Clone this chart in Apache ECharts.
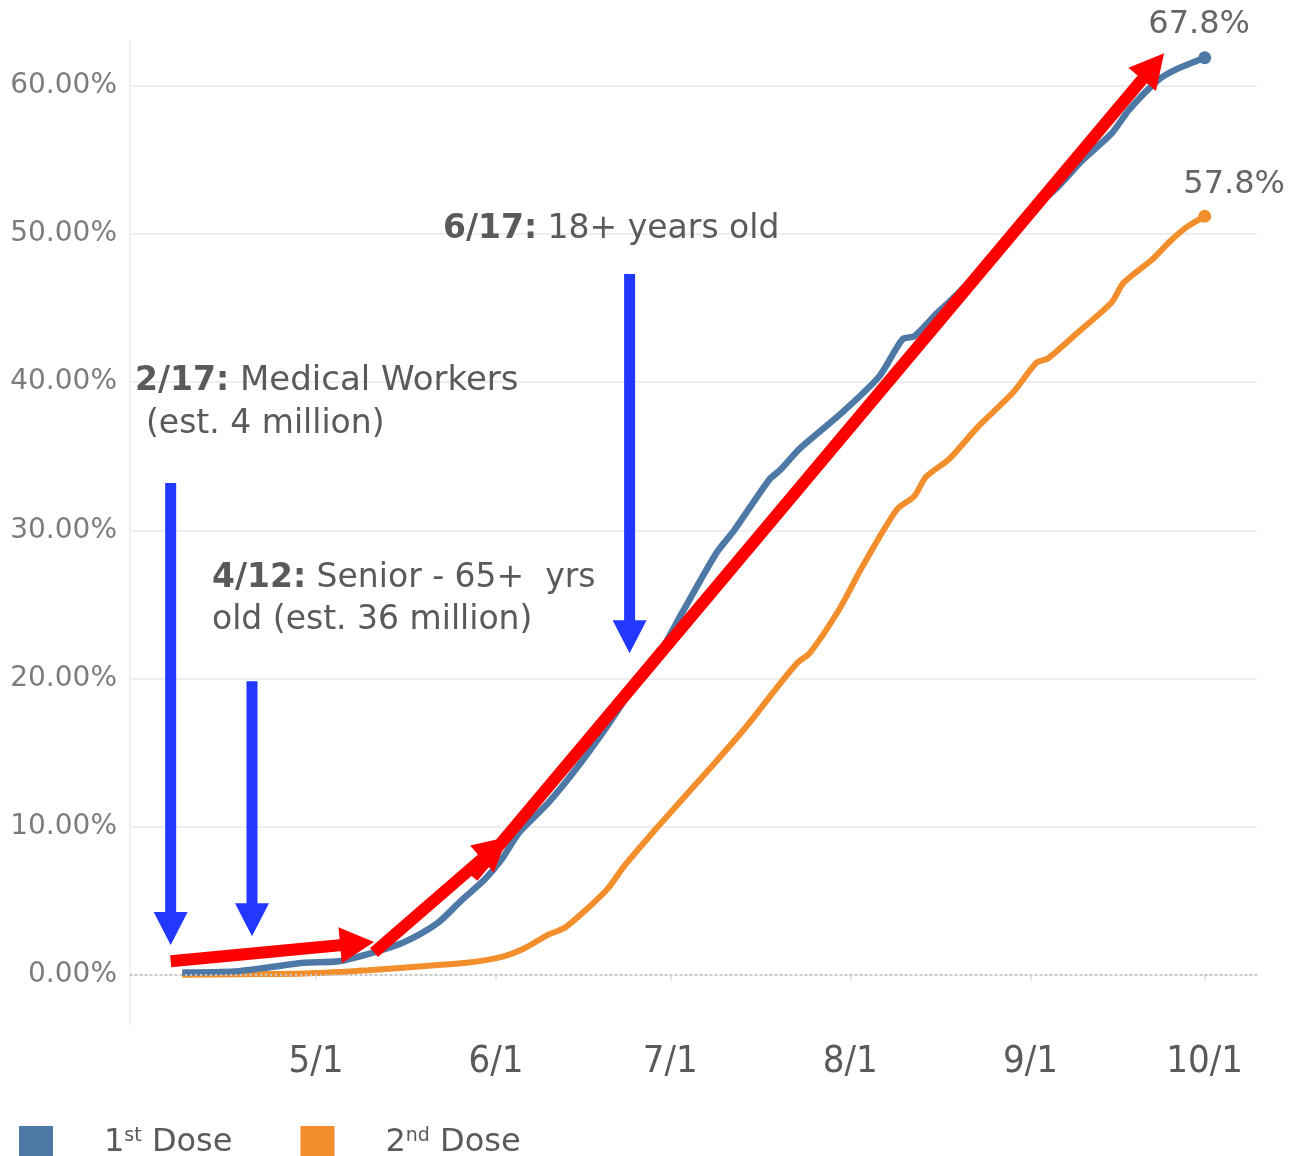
<!DOCTYPE html>
<html>
<head>
<meta charset="utf-8">
<script src="https://cdn.jsdelivr.net/npm/echarts@6/dist/echarts.min.js"></script>
<style>
  html, body { margin: 0; padding: 0; background: #fff; }
  #chart { width: 1289px; height: 1156px; }
</style>
</head>
<body>
<div id="chart"></div>
<script>
// Share of population with a first / second vaccine dose (2021), in percent
const dose1Dates = ['4/8','4/17','4/23','4/29','5/5','5/11','5/16','5/22','5/26','5/30','6/2','6/5','6/10','6/15','6/20','6/25','6/29','7/3','7/9','7/12','7/18','7/20','7/23','7/25','7/31','8/6','8/10','8/12','8/16','8/18','8/23','8/28','9/2','9/6','9/10','9/15','9/18','9/23','9/26','10/1'];
const dose1Values = [0.15,0.22,0.5,0.8,0.9,1.5,2.16,3.5,5.0,6.4,7.8,9.6,11.6,14.0,16.7,19.6,21.6,24.4,28.5,30.0,33.4,34.1,35.4,36.1,38.1,40.4,42.9,43.1,44.7,45.4,47.4,49.6,51.8,53.3,55.0,56.8,58.4,60.4,61.1,61.9];

const dose2Dates = ['4/8','4/18','4/29','5/10','5/22','5/27','6/2','6/6','6/10','6/13','6/20','6/23','6/28','7/3','7/8','7/14','7/20','7/23','7/25','7/30','8/3','8/9','8/12','8/14','8/18','8/23','8/29','9/2','9/4','9/9','9/15','9/17','9/22','9/25','9/28','10/1'];
const dose2Values = [0.0,0.03,0.08,0.3,0.65,0.8,1.2,1.8,2.7,3.2,5.7,7.3,9.6,11.8,14.0,16.7,19.7,21.1,21.7,24.6,27.5,31.4,32.3,33.6,34.8,37.0,39.3,41.3,41.6,43.3,45.4,46.7,48.3,49.5,50.5,51.2];

const monthTicks = ['5/1','6/1','7/1','8/1','9/1','10/1'];
const yTicks = [0, 10, 20, 30, 40, 50, 60];
const seriesNames = ['1st Dose', '2nd Dose'];
const endCallouts = ['67.8%', '57.8%'];

const BLUE = '#4e79a7';
const ORANGE = '#f28e2b';
const TEXT = '#5a5a5a';
const FONT = '"DejaVu Sans", sans-serif';

// day-of-year for an "M/D" string in 2021
function doy(md) {
  const [m, d] = md.split('/').map(Number);
  return (Date.UTC(2021, m - 1, d) - Date.UTC(2021, 0, 1)) / 864e5;
}
function mdOf(n) {
  const t = new Date(Date.UTC(2021, 0, 1) + Math.round(n) * 864e5);
  return (t.getUTCMonth() + 1) + '/' + t.getUTCDate();
}
function pairs(dates, values) {
  return dates.map((d, i) => [doy(d), values[i]]);
}

const chart = echarts.init(document.getElementById('chart'), null, { renderer: 'canvas' });

function lastDot(len) {
  return (v, p) => (p.dataIndex === len - 1 ? 13 : 0);
}

chart.setOption({
  animation: false,
  backgroundColor: '#ffffff',
  grid: { left: 130, right: 32, top: 40, bottom: 131, containLabel: false },
  xAxis: {
    type: 'value',
    min: doy('3/30'),
    max: doy('10/10'),
    axisLine: { show: true, lineStyle: { color: '#eeeeee', width: 2 } },
    axisTick: { show: true, customValues: monthTicks.map(doy), length: 6, lineStyle: { color: '#e6e6e6', width: 2 } },
    splitLine: { show: false },
    axisLabel: {
      customValues: monthTicks.map(doy),
      formatter: v => mdOf(v),
      margin: 18,
      fontFamily: '"Liberation Sans Narrow", "DejaVu Sans Condensed", sans-serif',
      fontSize: 38,
      color: TEXT
    }
  },
  yAxis: {
    type: 'value',
    min: -3.4,
    max: 63.1,
    axisLine: { show: true, lineStyle: { color: '#f3f3f3', width: 2 } },
    axisTick: { show: false, customValues: [10, 20, 30, 40, 50, 60] },
    splitLine: { show: true, lineStyle: { color: '#eeeeee', width: 2 } },
    axisLabel: {
      customValues: yTicks,
      formatter: v => v.toFixed(2) + '%',
      margin: 13,
      fontFamily: FONT,
      fontSize: 28,
      color: '#7c7c7c'
    }
  },
  legend: {
    data: seriesNames,
    left: 14,
    top: 1121,
    orient: 'horizontal',
    icon: 'rect',
    itemWidth: 34,
    itemHeight: 34,
    itemGap: 68,
    selectedMode: false,
    formatter: n => '{gap|}' + n.replace(/^(\d)(st|nd)/, '$1{sup|$2}'),
    textStyle: {
      fontFamily: FONT,
      fontSize: 32,
      color: TEXT,
      rich: {
        gap: { width: 46 },
        sup: { fontFamily: FONT, fontSize: 19, color: TEXT, verticalAlign: 'top' }
      }
    }
  },
  series: [
    {
      name: seriesNames[1],
      type: 'line',
      z: 2,
      data: pairs(dose2Dates, dose2Values),
      smooth: 0.25,
      showSymbol: true,
      symbol: 'circle',
      symbolSize: lastDot(dose2Dates.length),
      itemStyle: { color: ORANGE },
      lineStyle: { color: ORANGE, width: 6 },
      markLine: {
        silent: true,
        symbol: 'none',
        label: { show: false },
        lineStyle: { type: [2, 3], color: '#c4c4c4', width: 2 },
        data: [{ yAxis: 0 }]
      }
    },
    {
      name: seriesNames[0],
      type: 'line',
      z: 3,
      data: pairs(dose1Dates, dose1Values),
      smooth: 0.25,
      showSymbol: true,
      symbol: 'circle',
      symbolSize: lastDot(dose1Dates.length),
      itemStyle: { color: BLUE },
      lineStyle: { color: BLUE, width: 6.5 }
    }
  ]
});

// --- annotation overlay: trend arrows, rollout-phase arrows and notes ---
function px(md, v) {
  return chart.convertToPixel({ gridIndex: 0 }, [doy(md), v]);
}
function arrow(a, b, color, width, headLen, headW) {
  const p0 = px(a[0], a[1]);
  const p1 = px(b[0], b[1]);
  const dx = p1[0] - p0[0], dy = p1[1] - p0[1];
  const len = Math.hypot(dx, dy);
  const ux = dx / len, uy = dy / len;
  const nx = -uy, ny = ux;
  const base = [p1[0] - ux * headLen, p1[1] - uy * headLen];
  return [
    {
      type: 'line', z: 100,
      shape: { x1: p0[0], y1: p0[1], x2: base[0] + ux * 2, y2: base[1] + uy * 2 },
      style: { stroke: color, lineWidth: width, lineCap: 'butt' }
    },
    {
      type: 'polygon', z: 100,
      shape: { points: [p1, [base[0] + nx * headW / 2, base[1] + ny * headW / 2], [base[0] - nx * headW / 2, base[1] - ny * headW / 2]] },
      style: { fill: color }
    }
  ];
}

const trendArrows = [
  [['4/6', 0.9], ['5/11', 2.2]],
  [['5/11', 1.5], ['6/3', 9.3]],
  [['5/28', 6.6], ['9/24', 62.2]]
];
const phaseArrows = [
  [['4/6', 33.2], ['4/6', 2.0]],
  [['4/20', 19.8], ['4/20', 2.6]],
  [['6/24', 47.3], ['6/24', 21.7]]
];

const graphics = [];
trendArrows.forEach(a => graphics.push(...arrow(a[0], a[1], '#ff0000', 12, 34, 36)));
phaseArrows.forEach(a => graphics.push(...arrow(a[0], a[1], '#2238ff', 11, 33, 34)));

const noteRich = {
  b: { fontFamily: FONT, fontSize: 33, fontWeight: 'bold', color: TEXT },
  r: { fontFamily: FONT, fontSize: 33, color: TEXT },
  w: { fontFamily: FONT, fontSize: 34, color: TEXT }
};
function note(x, y, text) {
  return {
    type: 'text', z: 110, x: x, y: y,
    style: { text: text, rich: noteRich, fontFamily: FONT, fontSize: 33, fill: TEXT, verticalAlign: 'middle', align: 'left' }
  };
}
graphics.push(
  note(135, 381, '{b|2/17:}{w| Medical Workers}'),
  note(146, 424, '{r|(est. 4 million)}'),
  note(212, 578, '{b|4/12:}{r| Senior - 65+  yrs}'),
  note(212, 620, '{r|old (est. 36 million)}'),
  note(443, 229, '{b|6/17:}{r| 18+ years old}'),
  {
    type: 'text', z: 110, x: 1250, y: 25,
    style: { text: endCallouts[0], fontFamily: FONT, fontSize: 32, fill: '#666666', align: 'right', verticalAlign: 'middle' }
  },
  {
    type: 'text', z: 110, x: 1285, y: 185,
    style: { text: endCallouts[1], fontFamily: FONT, fontSize: 32, fill: '#666666', align: 'right', verticalAlign: 'middle' }
  }
);

chart.setOption({ graphic: graphics });
</script>
</body>
</html>
